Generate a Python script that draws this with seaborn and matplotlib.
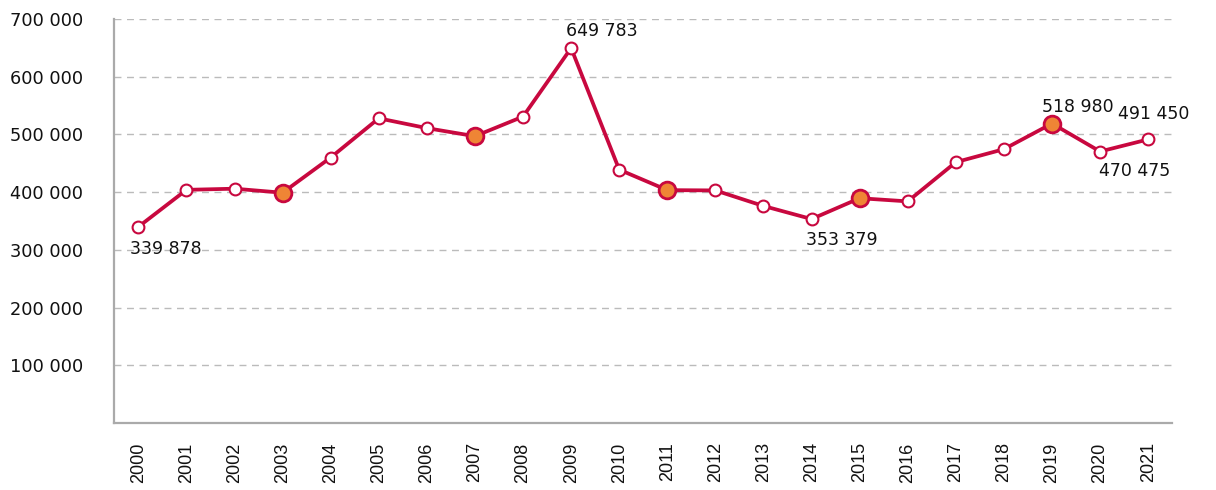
import seaborn as sns
import matplotlib.pyplot as plt
import numpy as np
import pandas as pd

years = list(range(2000, 2022))
values = [339878, 404000, 406000, 399000, 460000, 528000, 511000, 497000, 531000, 649783,
          439000, 403500, 403000, 376000, 353379, 389500, 384000, 452000, 474500, 518980,
          470475, 491450]
highlight_years = [2003, 2007, 2011, 2015, 2019]
label_years = [2000, 2009, 2014, 2019, 2020, 2021]
y_ticks = [100000, 200000, 300000, 400000, 500000, 600000, 700000]

red = "#C8083F"
orange = "#EF8535"

sns.set_style("white")
plt.rcParams['font.family'] = ['DejaVu Sans']

df = pd.DataFrame({"year": years, "value": values})
hl = df[df["year"].isin(highlight_years)]

fig = plt.figure(figsize=(12.16, 4.9), dpi=100)
ax = fig.add_axes([0.094, 0.137, 0.870, 0.824])

for t in y_ticks:
    ax.axhline(t, color="#BBBBBB", lw=1, ls=(0, (5, 4)), zorder=0)

sns.lineplot(data=df, x="year", y="value", ax=ax, color=red, lw=2.7,
             marker="o", markersize=8.5, markerfacecolor="white",
             markeredgecolor=red, markeredgewidth=1.5, zorder=3)
sns.scatterplot(data=hl, x="year", y="value", ax=ax, color=orange, s=145,
                edgecolor=red, linewidth=2, zorder=4)

# offsets in points: (dx, dy, ha)
offs = {2000: (-6, -16, "left"), 2009: (-4, 12, "left"), 2014: (-4, -15, "left"),
        2019: (-7, 12, "left"), 2020: (-1, -14, "left"), 2021: (4, 18, "center")}
for yr in label_years:
    v = values[years.index(yr)]
    dx, dy, ha = offs[yr]
    ax.annotate(f"{v:,}".replace(",", " "), (yr, v), xytext=(dx, dy),
                textcoords="offset points", ha=ha, va="center",
                fontsize=12.5, color="#111111", zorder=5)

ax.set_xlim(1999.5, 2021.5)
ax.set_ylim(0, 700000)
ax.set_xticks(years)
ax.set_xticklabels([str(y) for y in years], rotation=90, fontsize=13,
                   color="#111111", family=["Liberation Sans", "DejaVu Sans"])
ax.set_yticks(y_ticks)
ax.set_yticklabels([f"{t:,}".replace(",", " ") for t in y_ticks], fontsize=12.8,
                   color="#111111", ha="left")
ax.tick_params(axis="y", length=0, pad=75)
ax.tick_params(axis="x", length=0, pad=14)
ax.set_xlabel("")
ax.set_ylabel("")

for s in ["top", "right"]:
    ax.spines[s].set_visible(False)
for s in ["left", "bottom"]:
    ax.spines[s].set_color("#AAAAAA")
    ax.spines[s].set_linewidth(1.6)

fig.savefig("out.png", dpi=100)
